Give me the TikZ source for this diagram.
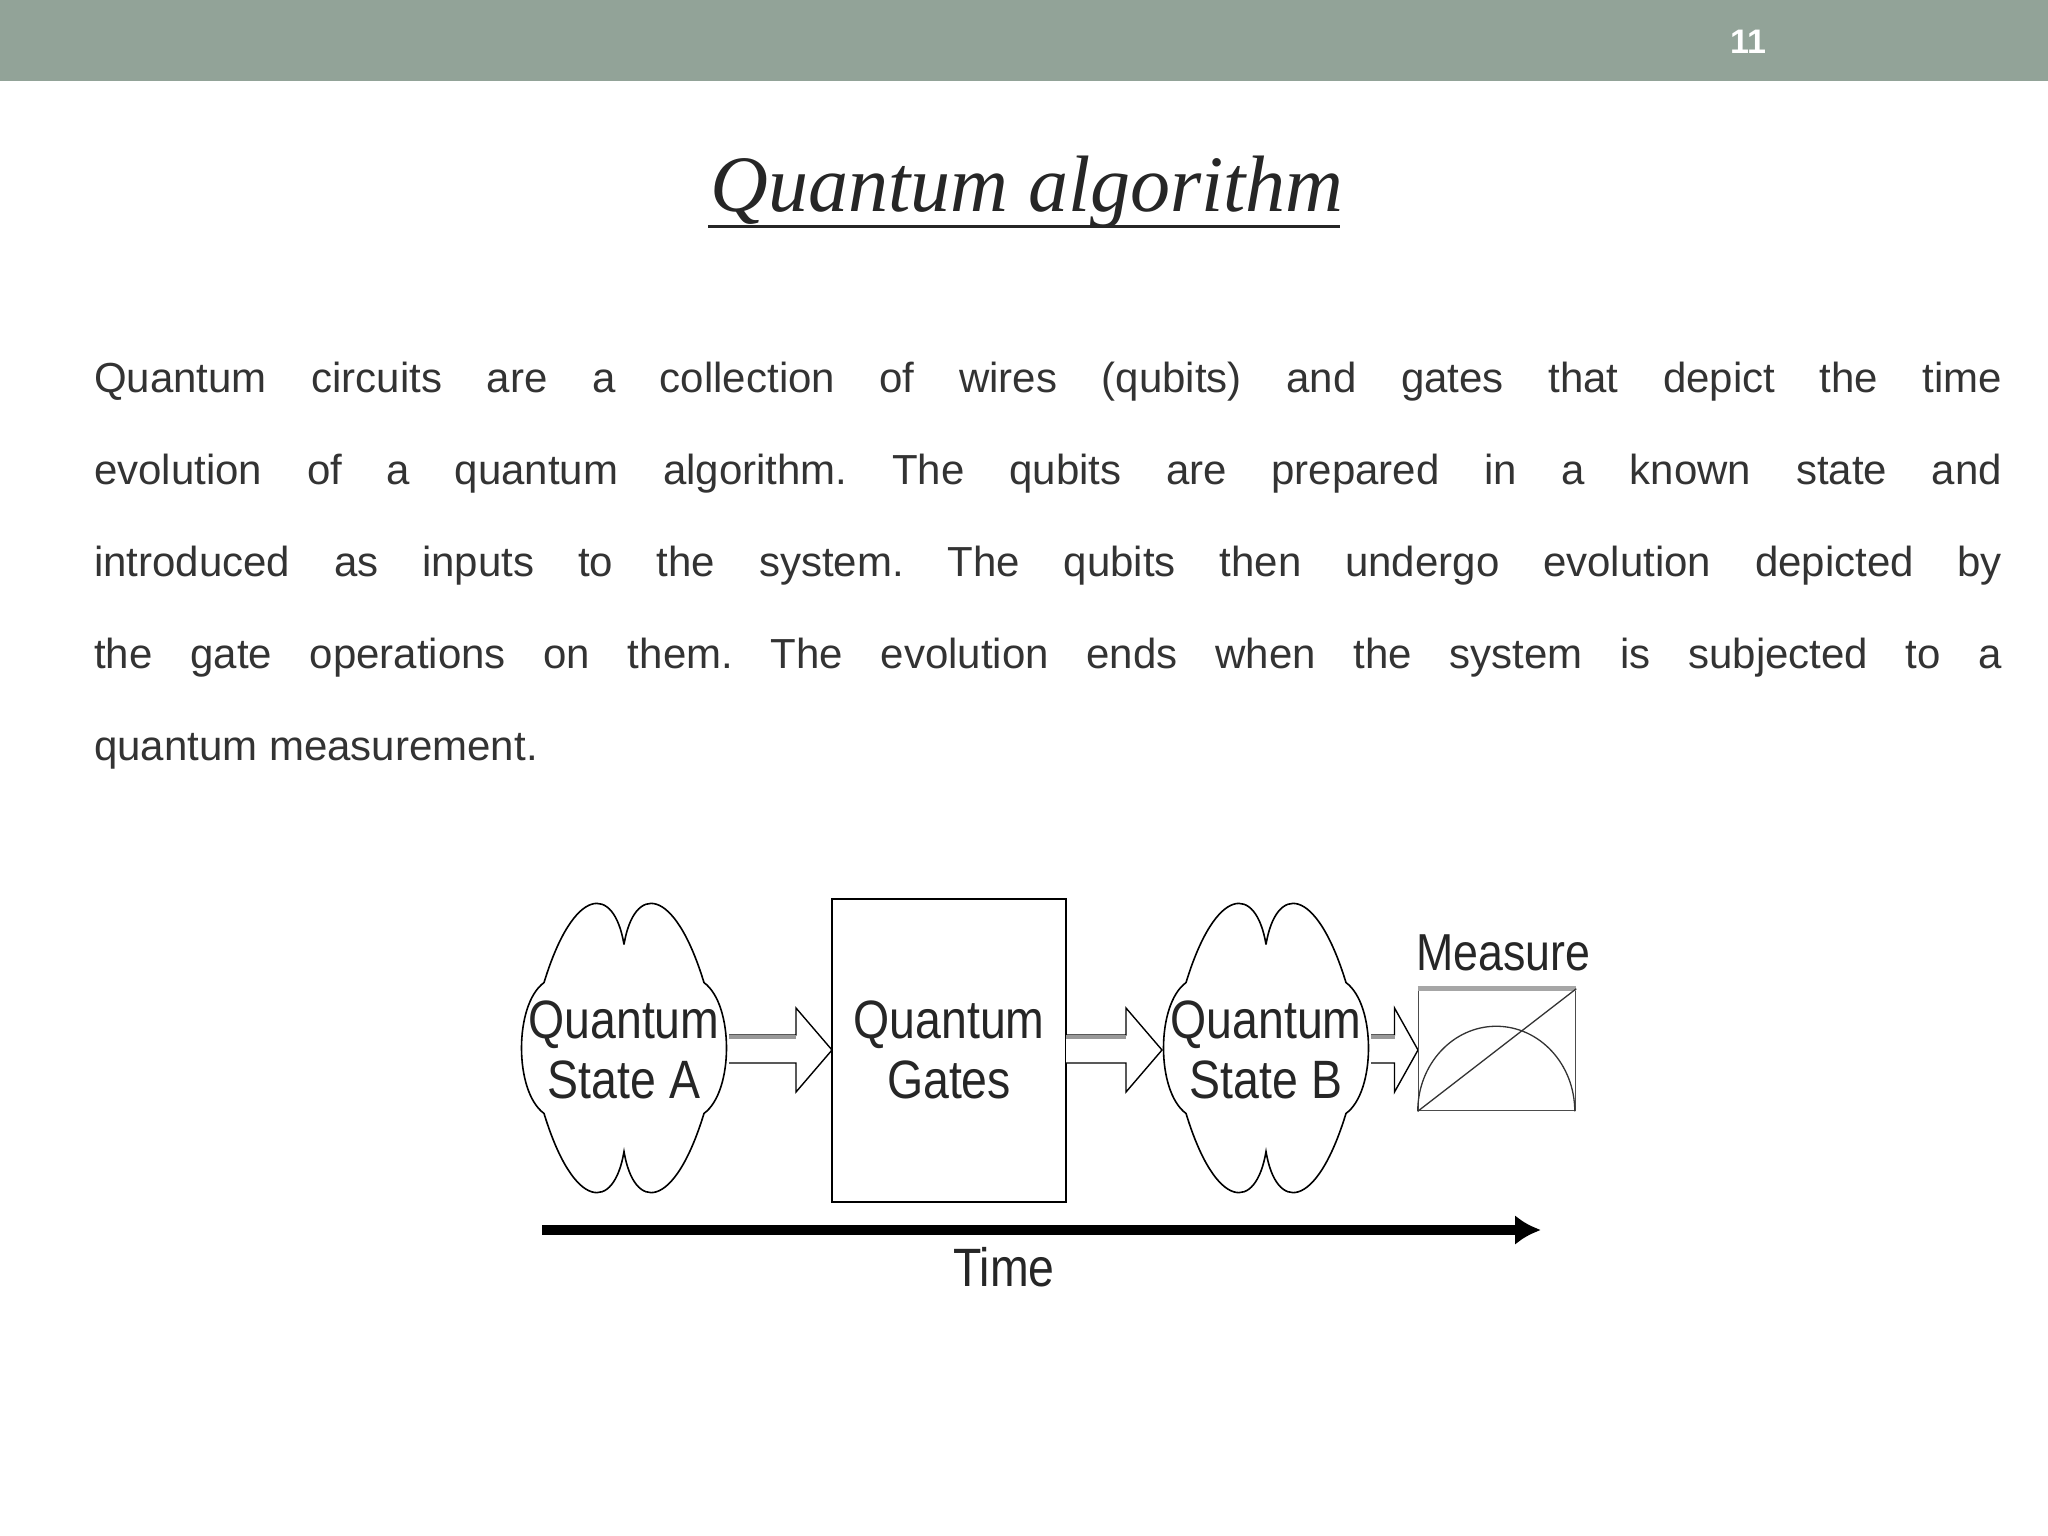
\documentclass[tikz,border=0pt]{standalone}
\usepackage{fontspec}
\usetikzlibrary{arrows.meta}
\setmainfont{Liberation Sans}
\newfontfamily\titlef{Liberation Serif}
\newfontfamily\narrowf[FakeStretch=0.86]{Liberation Sans}
\definecolor{bar}{HTML}{92A398}
\definecolor{txt}{HTML}{333333}
\tikzset{
  cloudpath/.style={draw=black,line width=1.6pt,fill=white},
  lbl/.style={font=\narrowf\fontsize{54}{60}\selectfont,align=center,text=black!85},
  blockarr/.style={draw=black,line width=1.4pt,fill=white},
}
\newcommand{\mycloud}[1]{%
  \begin{scope}[shift={#1},yscale=1.09]
  \draw[cloudpath] (0,-95)
    .. controls +(-10,-55) and +(30,-90) .. ++(-80,35)
    .. controls +(-30,20) and +(-30,-20) .. ++(0,120)
    .. controls +(30,90) and +(-10,55) .. ++(80,35)
    .. controls +(10,55) and +(-30,90) .. ++(80,-35)
    .. controls +(30,-20) and +(30,20) .. ++(0,-120)
    .. controls +(-30,-90) and +(10,-55) .. cycle;
  \end{scope}}
\begin{document}
\begin{tikzpicture}[x=1pt,y=-1pt]
\useasboundingbox (0,0) rectangle (2048,1536);
\fill[white] (0,0) rectangle (2048,1536);
\fill[bar] (0,0) rectangle (2048,81);
\node[text=white,font=\bfseries\fontsize{34}{40}\selectfont] (pg) at (1748,42) {11};
\node[text=black!85,font=\titlef\itshape\fontsize{80}{96}\selectfont] (title) at (1027,192) {Quantum algorithm};
\draw[black!85,line width=3pt] (708,226) -- (1340,226);
\node[anchor=north west,inner sep=0pt,text=txt,text width=1908pt,
  font=\fontsize{42}{92}\selectfont,align=justify] (para) at (94,362)
 {\frenchspacing Quantum circuits are a collection of wires (qubits) and gates that depict the time\linebreak
 evolution of a quantum algorithm. The qubits are prepared in a known state and\linebreak
 introduced as inputs to the system. The qubits then undergo evolution depicted by\linebreak
 the gate operations on them. The evolution ends when the system is subjected to a\linebreak
 quantum measurement.};
% clouds
\mycloud{(624,1048)}
\mycloud{(1266,1048)}
\node[lbl] (qa) at (624,1050) {Quantum\\State A};
\node[draw=black,line width=2pt,minimum width=234pt,minimum height=303pt,lbl] (qg) at (949,1050) {Quantum\\Gates};
\node[lbl] (qb) at (1266,1050) {Quantum\\State B};
% block arrows
\foreach \a/\b in {729/832,1066/1162,1371/1418}{
  \pgfmathsetmacro\h{\b-min(36,0.5*(\b-\a))}
  \draw[blockarr] (\a,1035) -- (\h,1035) -- (\h,1008) -- (\b,1050) -- (\h,1092) -- (\h,1063) -- (\a,1063);
  \draw[black!40,line width=4pt] (\a,1037) -- (\h,1037);
}
% measure
\node[draw=black!70,line width=1.5pt,minimum width=157pt,minimum height=121pt,inner sep=0pt] (meas) at (1497,1050) {};
\draw[black!35,line width=5pt] (meas.north west) -- (meas.north east);
\draw[black!80,line width=1.3pt] (meas.south west) -- (meas.north east);
\draw[black!80,line width=1.3pt] (meas.south west) arc[start angle=180,end angle=0,x radius=78.5pt,y radius=85pt];
\node[lbl,font=\narrowf\fontsize{52}{60}\selectfont] (mt) at (1503,953) {Measure};
% time
\coordinate (t0) at (542,1230);
\coordinate (t1) at (1541,1230);
\draw[line width=10pt,-{Latex[length=26pt,width=30pt]}] (t0) -- (t1);
\node[lbl] (time) at (1004,1267) {Time};
\end{tikzpicture}
\end{document}
